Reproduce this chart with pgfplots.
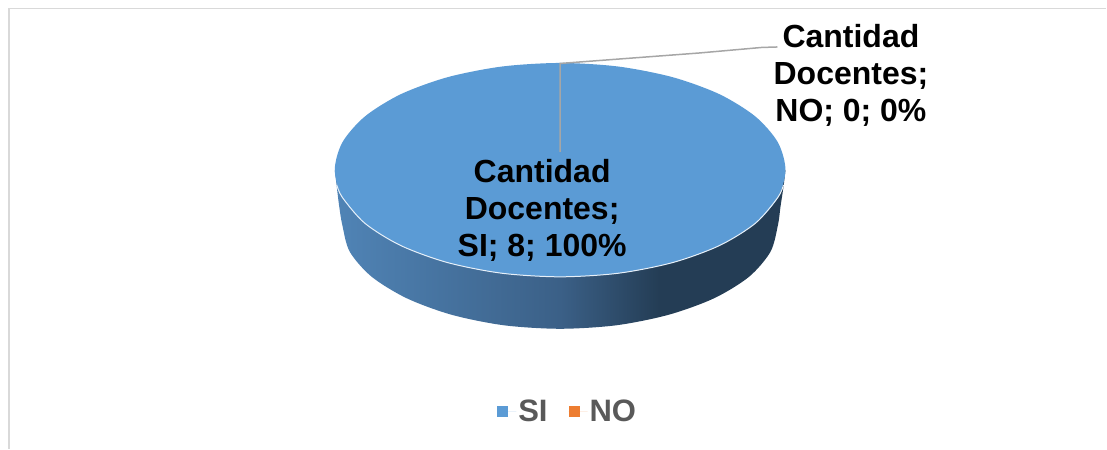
\documentclass[border=0pt]{standalone}
\usepackage{fontspec}
\setmainfont{Liberation Sans}
\usepackage{pgfplots}
\pgfplotsset{compat=1.18}
\definecolor{topblue}{HTML}{5B9BD5}
\definecolor{noorange}{HTML}{ED7D31}
\definecolor{legtext}{HTML}{595959}
\definecolor{leader}{HTML}{A6A6A6}
\definecolor{frameg}{HTML}{D9D9D9}
\definecolor{sideA}{HTML}{5084B6}
\definecolor{sideB}{HTML}{3B6087}
\definecolor{sideC}{HTML}{243D55}
\pgfdeclarehorizontalshading{pieside}{100bp}{
  color(0bp)=(sideA);
  color(25bp)=(sideA);
  color(50bp)=(sideB);
  color(61bp)=(sideC);
  color(100bp)=(sideC)}
\begin{document}
\begin{tikzpicture}
\begin{axis}[
  hide axis, scale only axis, width=1107pt, height=449pt,
  xmin=0, xmax=1107, ymin=0, ymax=449, y dir=reverse, clip=false,
  legend columns=2,
  legend style={at={(axis cs:568,412)}, anchor=center, draw=none, fill=none,
    font=\fontsize{31}{35}\selectfont\bfseries\color{legtext},
    /tikz/every even column/.append style={column sep=19pt},
    inner sep=0pt},
  legend image code/.code={\fill[#1] (0pt,-5.5pt) rectangle (11pt,5.5pt);\path (0pt,0pt) -- (19pt,0pt);},
]
% page extent
\addplot[forget plot, draw=none] coordinates {(0,0)(1107,449)};
% frame
\addplot[forget plot, frameg, line width=1.5pt] coordinates {(9,449)(9,8.5)(1107,8.5)};
% side wall
\addplot[forget plot, draw=none, shading=pieside, smooth] coordinates {
 (335,170)(337,187)(339.5,207)(342.5,225)(350,251.9)(372,277)(407.1,298.5)(452,315)(504.3,325.5)(560.5,329)
 (616.7,325.5)(669,315)(714.5,298.5)(749.5,277)(771,251.9)(778.5,225)(781,207)(784,187)(786,170)};
% SI: the top of the pie (8, 100%)
\addplot[draw=none, fill=topblue, smooth] coordinates {
 (778.3,142.3)(786,170)(778.3,197.7)(755.8,223.5)(720,245.7)(673.3,262.7)(618.9,273.4)(560.5,277)
 (502.1,273.4)(447.7,262.7)(401,245.7)(365.2,223.5)(342.7,197.7)(335,170)
 (342.7,142.3)(365.2,116.5)(401,94.3)(447.7,77.3)(502.1,66.6)(560.5,63)
 (618.9,66.6)(673.3,77.3)(720,94.3)(755.8,116.5)(778.3,142.3)(786,170)(778.3,197.7)};
\addlegendentry{SI}
% NO: 0, 0%: no area
\addplot[draw=none, fill=noorange] coordinates {(560.5,63)(560.5,63)};
\addlegendentry{NO}
% highlight on the rim
\addplot[forget plot, white!85!topblue, line width=1pt, smooth] coordinates {
 (337,185)(342.7,197.7)(365.2,223.5)(401,245.7)(447.7,262.7)(502.1,273.4)(560.5,277)
 (618.9,273.4)(673.3,262.7)(720,245.7)(755.8,223.5)(778.3,197.7)(784,185)};
% leader lines
\addplot[forget plot, leader, line width=1.5pt] coordinates {(560.5,152)(560.5,63.5)(700,53)(762,47.5)(778,47)};
\node[anchor=base, font=\fontsize{32}{37}\selectfont\bfseries] at (axis cs:851.5,48) {Cantidad};
\node[anchor=base, font=\fontsize{32}{37}\selectfont\bfseries] at (axis cs:851.5,85) {Docentes;};
\node[anchor=base, font=\fontsize{32}{37}\selectfont\bfseries] at (axis cs:851.5,122) {NO; 0; 0\%};
\node[anchor=base, font=\fontsize{32}{37}\selectfont\bfseries] at (axis cs:542.5,183) {Cantidad};
\node[anchor=base, font=\fontsize{32}{37}\selectfont\bfseries] at (axis cs:542.5,220) {Docentes;};
\node[anchor=base, font=\fontsize{32}{37}\selectfont\bfseries] at (axis cs:542.5,257) {SI; 8; 100\%};
\end{axis}
\end{tikzpicture}
\end{document}
